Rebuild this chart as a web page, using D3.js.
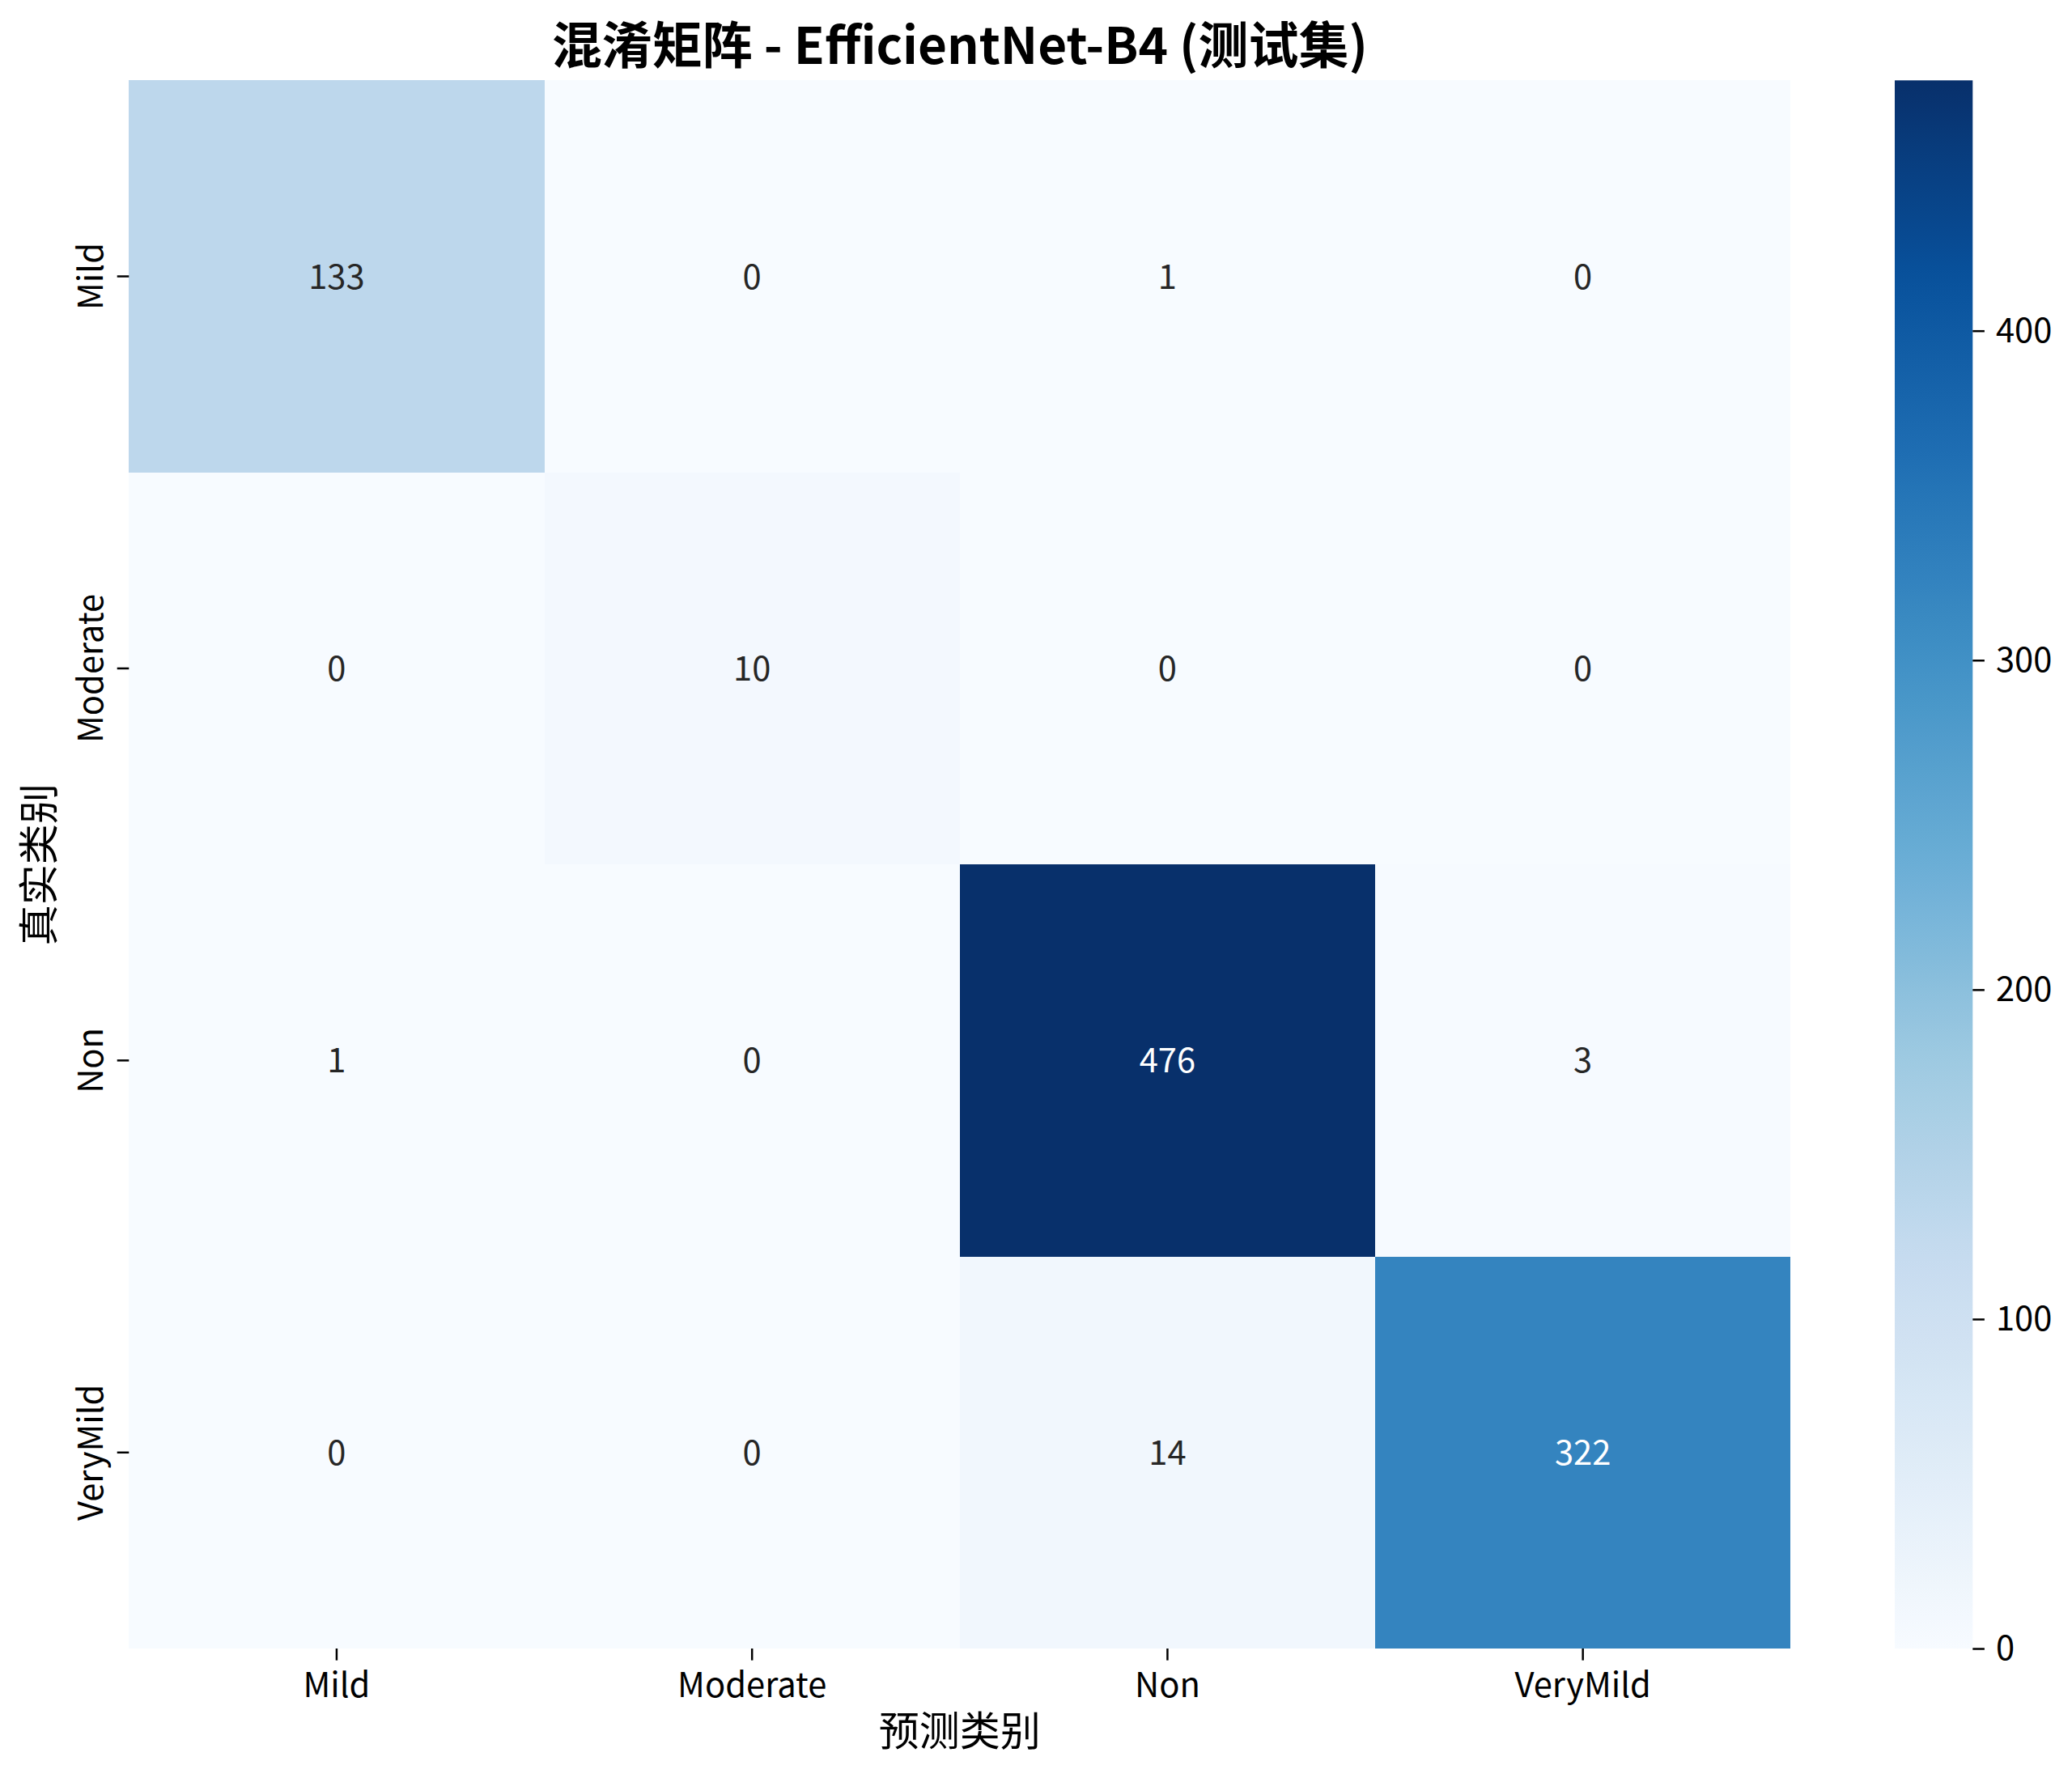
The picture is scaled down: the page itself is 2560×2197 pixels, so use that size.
<!DOCTYPE html>
<html>
<head>
<meta charset="utf-8">
<script src="https://cdn.jsdelivr.net/npm/d3@7"></script>
<style>
  body { margin: 0; background: #fff; }
  text { font-family: "Noto Sans CJK SC", "Noto Sans", sans-serif; }
</style>
</head>
<body>
<div id="chart"></div>
<script>
// data
var classes = ["Mild", "Moderate", "Non", "VeryMild"];
var matrix = [
    [133, 0, 1, 0],
    [0, 10, 0, 0],
    [1, 0, 476, 3],
    [0, 0, 14, 322]
];
var cbarTicks = [0, 100, 200, 300, 400];
var titleText = "混淆矩阵 - EfficientNet-B4 (测试集)";
var xLabel = "预测类别";
var yLabel = "真实类别";

// matplotlib "Blues" stops
var blues = ["#f7fbff", "#deebf7", "#c6dbef", "#9ecae1", "#6baed6",
             "#4292c6", "#2171b5", "#08519c", "#08306b"];

var width = 2560, height = 2197;
var plot = { left: 159.3, right: 2212.3, top: 99.3, bottom: 2037 };
var cbar = { left: 2341, right: 2437.3 };
var tickFont = 41.7;

var vmax = d3.max(matrix, function(r) { return d3.max(r); });
var vmin = 0;

var color = d3.scaleLinear()
    .domain(blues.map(function(d, i) { return vmin + i * (vmax - vmin) / (blues.length - 1); }))
    .range(blues)
    .interpolate(d3.interpolateRgb);

var xScale = d3.scaleBand().domain(classes).range([plot.left, plot.right]);
var yScale = d3.scaleBand().domain(classes).range([plot.top, plot.bottom]);

var svg = d3.select("#chart").append("svg")
    .attr("width", width)
    .attr("height", height)
    .style("display", "block")
    .style("background", "#fff");

// cells
var cells = [];
matrix.forEach(function(row, i) {
    row.forEach(function(v, j) {
        cells.push({ t: classes[i], p: classes[j], v: v });
    });
});

svg.selectAll("rect.cell")
    .data(cells)
    .enter().append("rect")
    .attr("class", "cell")
    .attr("x", function(d) { return xScale(d.p); })
    .attr("y", function(d) { return yScale(d.t); })
    .attr("width", xScale.bandwidth())
    .attr("height", yScale.bandwidth())
    .attr("shape-rendering", "crispEdges")
    .attr("fill", function(d) { return color(d.v); });

// annotations, seaborn picks text colour by luminance
function lum(c) {
    var rgb = d3.rgb(c);
    var f = function(x) { x /= 255; return x <= 0.03928 ? x / 12.92 : Math.pow((x + 0.055) / 1.055, 2.4); };
    return 0.2126 * f(rgb.r) + 0.7152 * f(rgb.g) + 0.0722 * f(rgb.b);
}

svg.selectAll("text.annot")
    .data(cells)
    .enter().append("text")
    .attr("class", "annot")
    .attr("x", function(d) { return xScale(d.p) + xScale.bandwidth() / 2; })
    .attr("y", function(d) { return yScale(d.t) + yScale.bandwidth() / 2; })
    .attr("dy", "0.36em")
    .attr("text-anchor", "middle")
    .style("font-size", tickFont + "px")
    .attr("fill", function(d) { return lum(color(d.v)) > 0.408 ? "#262626" : "#ffffff"; })
    .text(function(d) { return d.v; });

// x axis
var xAxis = svg.append("g")
    .attr("transform", "translate(0," + plot.bottom + ")")
    .call(d3.axisBottom(xScale).tickSize(14.6).tickPadding(16));
xAxis.select(".domain").remove();
xAxis.selectAll(".tick line").attr("stroke", "#000").attr("stroke-width", 2.5);
xAxis.selectAll(".tick text")
    .attr("fill", "#000")
    .style("font-size", tickFont + "px")
    .style("font-family", "'Noto Sans CJK SC', sans-serif")
    .attr("dy", "0.71em");

// y axis
var yAxis = svg.append("g")
    .attr("transform", "translate(" + plot.left + ",0)")
    .call(d3.axisLeft(yScale).tickSize(14.6).tickFormat(""));
yAxis.select(".domain").remove();
yAxis.selectAll(".tick line").attr("stroke", "#000").attr("stroke-width", 2.5);

svg.selectAll("text.ytick")
    .data(classes)
    .enter().append("text")
    .attr("class", "ytick")
    .attr("transform", function(d) {
        return "translate(127," + (yScale(d) + yScale.bandwidth() / 2) + ") rotate(-90)";
    })
    .attr("text-anchor", "middle")
    .style("font-size", tickFont + "px")
    .attr("fill", "#000")
    .text(function(d) { return d; });

// axis labels
svg.append("text")
    .attr("x", (plot.left + plot.right) / 2)
    .attr("y", 2157)
    .attr("text-anchor", "middle")
    .style("font-size", "50px")
    .attr("fill", "#000")
    .text(xLabel);

svg.append("text")
    .attr("transform", "translate(66," + (plot.top + plot.bottom) / 2 + ") rotate(-90)")
    .attr("text-anchor", "middle")
    .style("font-size", "50px")
    .attr("fill", "#000")
    .text(yLabel);

// title
svg.append("text")
    .attr("x", (plot.left + plot.right) / 2)
    .attr("y", 79)
    .attr("text-anchor", "middle")
    .style("font-size", "62px")
    .style("font-weight", "bold")
    .attr("fill", "#000")
    .text(titleText);

// colorbar
var cScale = d3.scaleLinear().domain([vmin, vmax]).range([plot.bottom, plot.top]);

var grad = svg.append("defs").append("linearGradient")
    .attr("id", "cbarGrad")
    .attr("x1", 0).attr("y1", 1).attr("x2", 0).attr("y2", 0);
grad.selectAll("stop")
    .data(d3.range(0, 1.0001, 0.02))
    .enter().append("stop")
    .attr("offset", function(d) { return d; })
    .attr("stop-color", function(d) { return color(vmin + d * (vmax - vmin)); });

svg.append("rect")
    .attr("x", cbar.left)
    .attr("y", plot.top)
    .attr("width", cbar.right - cbar.left)
    .attr("height", plot.bottom - plot.top)
    .attr("fill", "url(#cbarGrad)");

var cAxis = svg.append("g")
    .attr("transform", "translate(" + cbar.right + ",0)")
    .call(d3.axisRight(cScale).tickValues(cbarTicks).tickSize(14.6).tickPadding(14));
cAxis.select(".domain").remove();
cAxis.selectAll(".tick line").attr("stroke", "#000").attr("stroke-width", 2.5);
cAxis.selectAll(".tick text")
    .attr("fill", "#000")
    .style("font-size", tickFont + "px")
    .style("font-family", "'Noto Sans CJK SC', sans-serif");
</script>
</body>
</html>
